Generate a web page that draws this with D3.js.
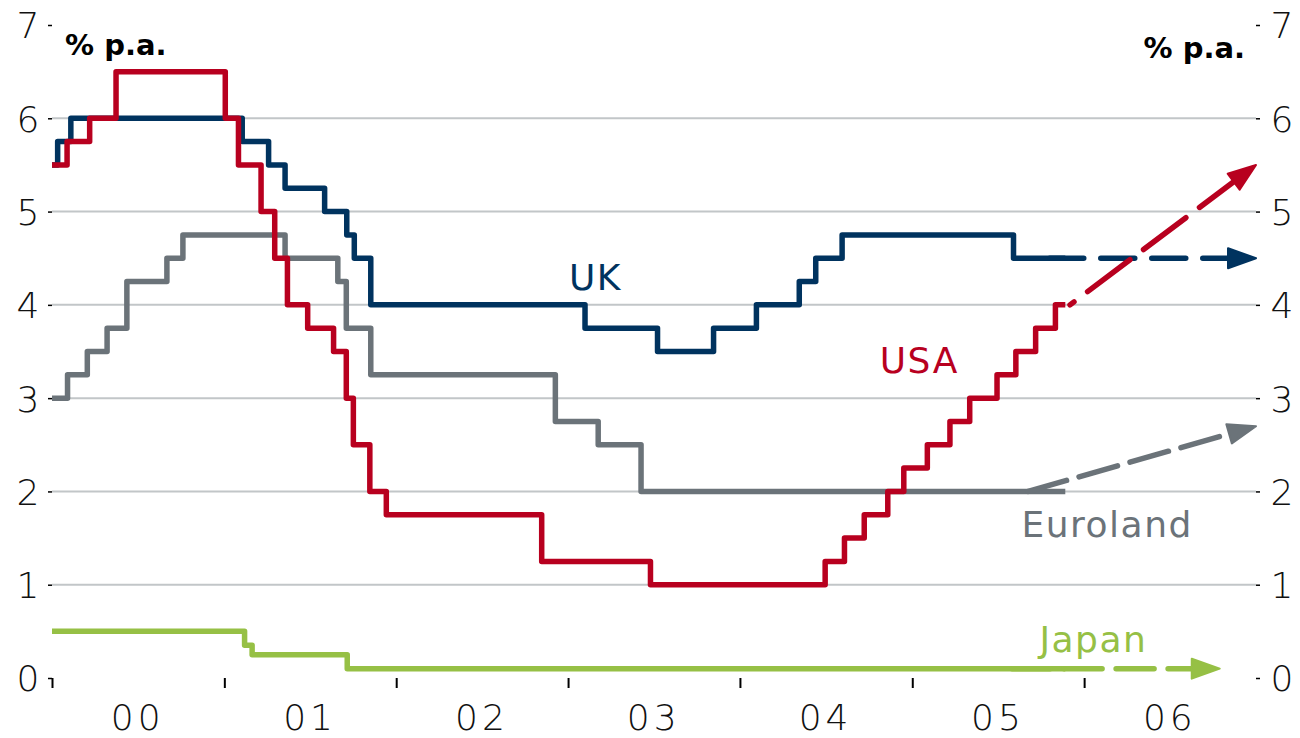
<!DOCTYPE html>
<html>
<head>
<meta charset="utf-8">
<script src="https://cdn.jsdelivr.net/npm/d3@7"></script>
<style>
  body { margin: 0; background: #fff; }
  svg { display: block; font-family: 'DejaVu Sans', sans-serif; }
</style>
</head>
<body>
<svg id="chart" width="1300" height="738"></svg>
<script>
// central bank key rates, % p.a. -- each date is the day a new rate took effect
const usaDates = ['2000-01-01', '2000-02-02', '2000-03-21', '2000-05-16', '2001-01-03', '2001-01-31',
  '2001-03-20', '2001-04-18', '2001-05-15', '2001-06-27', '2001-08-21', '2001-09-17', '2001-10-02',
  '2001-11-06', '2001-12-11', '2002-11-06', '2003-06-25', '2004-06-30', '2004-08-10', '2004-09-21',
  '2004-11-10', '2004-12-14', '2005-02-02', '2005-03-22', '2005-05-03', '2005-06-30', '2005-08-09',
  '2005-09-20', '2005-11-01'];
const usaRates = [5.5, 5.75, 6.0, 6.5, 6.0, 5.5, 5.0, 4.5, 4.0, 3.75, 3.5, 3.0, 2.5, 2.0, 1.75, 1.25,
  1.0, 1.25, 1.5, 1.75, 2.0, 2.25, 2.5, 2.75, 3.0, 3.25, 3.5, 3.75, 4.0];

const ukDates = ['2000-01-01', '2000-01-13', '2000-02-10', '2001-02-08', '2001-04-05', '2001-05-10',
  '2001-08-02', '2001-09-18', '2001-10-04', '2001-11-08', '2003-02-06', '2003-07-10', '2003-11-06',
  '2004-02-05', '2004-05-06', '2004-06-10', '2004-08-05', '2005-08-04'];
const ukRates = [5.5, 5.75, 6.0, 5.75, 5.5, 5.25, 5.0, 4.75, 4.5, 4.0, 3.75, 3.5, 3.75, 4.0, 4.25,
  4.5, 4.75, 4.5];

const euroDates = ['2000-01-01', '2000-02-03', '2000-03-16', '2000-04-27', '2000-06-08', '2000-09-01',
  '2000-10-05', '2001-05-10', '2001-08-30', '2001-09-17', '2001-11-08', '2002-12-05', '2003-03-06',
  '2003-06-05'];
const euroRates = [3.0, 3.25, 3.5, 3.75, 4.25, 4.5, 4.75, 4.5, 4.25, 3.75, 3.25, 2.75, 2.5, 2.0];

const japanDates = ['2000-01-01', '2001-02-13', '2001-03-01', '2001-09-19'];
const japanRates = [0.5, 0.35, 0.25, 0.1];

const dataEnd = '2005-11-22';

// expected path: [start, end] as [date, rate]
const usaForecast = [['2005-12-02', 4.0], ['2007-01-01', 5.5]];
const ukForecast = [['2005-10-20', 4.5], ['2007-01-01', 4.5]];
const euroForecast = [['2005-09-04', 2.0], ['2007-01-01', 2.7]];
const japanForecast = [['2005-08-01', 0.1], ['2006-10-16', 0.1]];

const yTicks = [0, 1, 2, 3, 4, 5, 6, 7];
const gridValues = [1, 2, 3, 4, 5, 6];
const yearStarts = ['2000', '2001', '2002', '2003', '2004', '2005', '2006'];
const yearLabels = ['00', '01', '02', '03', '04', '05', '06'];

const colors = { usa: '#b8001f', uk: '#00335f', euro: '#6b7379', japan: '#96c045' };

const parse = d3.timeParse('%Y-%m-%d');
const parseYear = d3.timeParse('%Y');

const svg = d3.select('#chart');
const plot = { left: 52, right: 1256, top: 25, bottom: 678 };

const x = d3.scaleTime()
  .domain([parse('2000-01-01'), parse('2007-01-01')])
  .range([plot.left, plot.right]);
const y = d3.scaleLinear().domain([0, 7]).range([plot.bottom, plot.top]);

// grid
svg.append('g')
  .selectAll('line')
  .data(gridValues)
  .join('line')
  .attr('x1', plot.left)
  .attr('x2', plot.right)
  .attr('y1', (d) => y(d))
  .attr('y2', (d) => y(d))
  .attr('stroke', '#c2c6c8')
  .attr('stroke-width', 2);

// y axes, both sides
const yLeft = svg.append('g')
  .attr('transform', `translate(${plot.left},0)`)
  .call(d3.axisLeft(y).tickValues(yTicks).tickSize(4).tickFormat(d3.format('d')));
const yRight = svg.append('g')
  .attr('transform', `translate(${plot.right},0)`)
  .call(d3.axisRight(y).tickValues(yTicks).tickSize(4).tickFormat(d3.format('d')));

[yLeft, yRight].forEach((g) => {
  g.select('.domain').remove();
  g.selectAll('.tick line').attr('stroke', '#000').attr('stroke-width', 1.5);
  g.selectAll('.tick text')
    .attr('font-family', "'DejaVu Sans', sans-serif")
    .attr('font-size', 36)
    .attr('font-weight', 300)
    .attr('fill', '#111')
    .attr('text-anchor', 'middle')
    .attr('dy', '0.36em');
});
yLeft.selectAll('.tick text').attr('x', -24);
yRight.selectAll('.tick text').attr('x', 26);

// x axis: ticks at year starts, labels mid-year
const xAxis = svg.append('g')
  .attr('transform', `translate(0,${plot.bottom})`)
  .call(d3.axisBottom(x).tickValues(yearStarts.map(parseYear)).tickSize(10).tickFormat(''));
xAxis.select('.domain').remove();
xAxis.selectAll('.tick line').attr('stroke', '#000').attr('stroke-width', 2);

svg.append('g')
  .selectAll('text')
  .data(yearStarts)
  .join('text')
  .attr('x', (d) => x(d3.timeDay.offset(parseYear(d), 182)))
  .attr('y', 730)
  .attr('text-anchor', 'middle')
  .attr('font-size', 36)
  .attr('font-weight', 300)
  .attr('letter-spacing', 4)
  .attr('fill', '#111')
  .text((d, i) => yearLabels[i]);

// unit labels
svg.append('text')
  .attr('x', 65).attr('y', 55)
  .attr('font-size', 29).attr('font-weight', 'bold')
  .text('% p.a.');
svg.append('text')
  .attr('x', 1245).attr('y', 58)
  .attr('text-anchor', 'end')
  .attr('font-size', 29).attr('font-weight', 'bold')
  .text('% p.a.');

const steps = (dates, rates) => {
  const pts = dates.map((d, i) => ({ date: parse(d), value: rates[i] }));
  pts.push({ date: parse(dataEnd), value: rates[rates.length - 1] });
  return pts;
};

const line = d3.line()
  .x((d) => x(d.date))
  .y((d) => y(d.value))
  .curve(d3.curveStepAfter);

const series = [
  { key: 'japan', pts: steps(japanDates, japanRates), fc: japanForecast, dash: '38,14', offset: 0 },
  { key: 'euro', pts: steps(euroDates, euroRates), fc: euroForecast, dash: '40,13', offset: 0 },
  { key: 'uk', pts: steps(ukDates, ukRates), fc: ukForecast, dash: '34,17', offset: 0 },
  { key: 'usa', pts: steps(usaDates, usaRates), fc: usaForecast, dash: '53,17', offset: 48 },
];

series.forEach((s) => {
  const c = colors[s.key];
  svg.append('path')
    .datum(s.pts)
    .attr('d', line)
    .attr('fill', 'none')
    .attr('stroke', c)
    .attr('stroke-width', 5.5)
    .attr('stroke-linejoin', 'round');

  // dashed outlook with arrow head
  const p0 = [x(parse(s.fc[0][0])), y(s.fc[0][1])];
  const p1 = [x(parse(s.fc[1][0])), y(s.fc[1][1])];
  const len = Math.hypot(p1[0] - p0[0], p1[1] - p0[1]);
  const ux = (p1[0] - p0[0]) / len, uy = (p1[1] - p0[1]) / len;
  const headLen = 28, headHalf = 10;
  svg.append('line')
    .attr('x1', p0[0]).attr('y1', p0[1])
    .attr('x2', p1[0] - ux * 20).attr('y2', p1[1] - uy * 20)
    .attr('stroke', c)
    .attr('stroke-width', 5.5)
    .attr('stroke-linecap', 'round')
    .attr('stroke-dasharray', s.dash)
    .attr('stroke-dashoffset', s.offset);
  const bx = p1[0] - ux * headLen, by = p1[1] - uy * headLen;
  svg.append('path')
    .attr('d', `M${p1[0]},${p1[1]}L${bx - uy * headHalf},${by + ux * headHalf}L${bx + uy * headHalf},${by - ux * headHalf}Z`)
    .attr('fill', c)
    .attr('stroke', c)
    .attr('stroke-width', 2)
    .attr('stroke-linejoin', 'round');
});

// series names
const names = [
  { key: 'uk', text: 'UK', date: '2003-01-03', value: 4.16 },
  { key: 'usa', text: 'USA', date: '2004-10-24', value: 3.27 },
  { key: 'euro', text: 'Euroland', date: '2005-08-21', value: 1.51 },
  { key: 'japan', text: 'Japan', date: '2005-09-28', value: 0.28 },
];
svg.append('g')
  .selectAll('text')
  .data(names)
  .join('text')
  .attr('x', (d) => x(parse(d.date)))
  .attr('y', (d) => y(d.value))
  .attr('font-size', 36)
  .attr('letter-spacing', 1.5)
  .attr('fill', (d) => colors[d.key])
  .text((d) => d.text);
</script>
</body>
</html>
